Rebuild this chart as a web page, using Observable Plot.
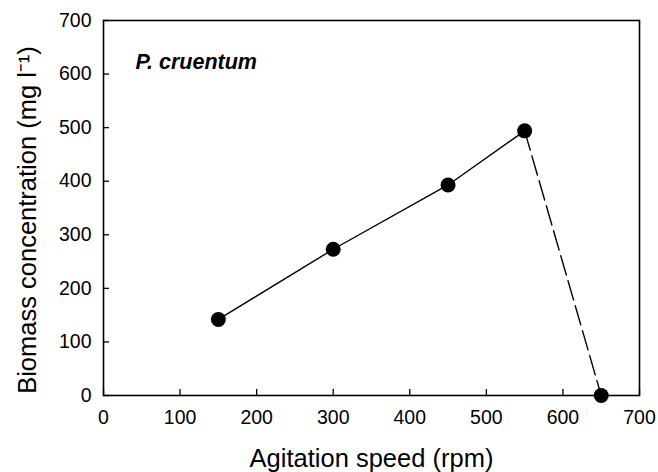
<!DOCTYPE html>
<html>
<head>
<meta charset="utf-8">
<script src="https://cdn.jsdelivr.net/npm/d3@7"></script>
<script src="https://cdn.jsdelivr.net/npm/@observablehq/plot@0.6"></script>
<style>
  html, body { margin: 0; padding: 0; background: #fff; }
</style>
</head>
<body>
<div id="chart"></div>
<script>
const speeds = [150, 300, 450, 550, 650];
const biomass = [142, 273, 393, 494, 0];
const solidIdx = [0, 1, 2, 3];
const dashedIdx = [3, 4];
const xTicks = [0, 100, 200, 300, 400, 500, 600, 700];
const yTicks = [0, 100, 200, 300, 400, 500, 600, 700];
const xTitle = "Agitation speed (rpm)";
const yTitle = "Biomass concentration (mg l\u207B\u00B9)";
const species = "P. cruentum";

const pts = speeds.map((s, i) => ({x: s, y: biomass[i]}));
const solid = solidIdx.map(i => pts[i]);
const dashed = dashedIdx.map(i => pts[i]);

const font = "'Liberation Sans', Arial, Helvetica, sans-serif";

const chart = Plot.plot({
  width: 658,
  height: 472,
  marginLeft: 103,
  marginRight: 19,
  marginTop: 20,
  marginBottom: 77,
  style: {fontFamily: font, background: "#fff", color: "#000"},
  x: {domain: [0, 700]},
  y: {domain: [0, 700]},
  marks: [
    Plot.axisX({ticks: xTicks, tickSize: -6, tickPadding: 21, fontSize: 19.5, label: null, strokeWidth: 1.3}),
    Plot.axisY({ticks: yTicks, tickSize: -6, tickPadding: 18, fontSize: 19.5, label: null, strokeWidth: 1.3}),
    Plot.frame({stroke: "#000", strokeWidth: 1.6}),
    Plot.line(solid, {x: "x", y: "y", stroke: "#000", strokeWidth: 1.4}),
    Plot.line(dashed, {x: "x", y: "y", stroke: "#000", strokeWidth: 1.4, strokeDasharray: "20,6"}),
    Plot.dot(pts, {x: "x", y: "y", r: 7.5, fill: "#000", stroke: "none"}),
    Plot.text([species], {frameAnchor: "top-left", dx: 32, dy: 48, text: d => d, textAnchor: "start", lineAnchor: "bottom", fontSize: 21.5, fontWeight: "bold", fontStyle: "italic", fill: "#000"}),
    Plot.text([xTitle], {frameAnchor: "bottom", dy: 71, text: d => d, textAnchor: "middle", lineAnchor: "bottom", fontSize: 25.5, fill: "#000"}),
    Plot.text([yTitle], {frameAnchor: "left", dx: -86, dy: 12, rotate: -90, text: d => d, textAnchor: "middle", lineAnchor: "top", fontSize: 25.5, fill: "#000"})
  ]
});
document.getElementById("chart").appendChild(chart);
</script>
</body>
</html>
